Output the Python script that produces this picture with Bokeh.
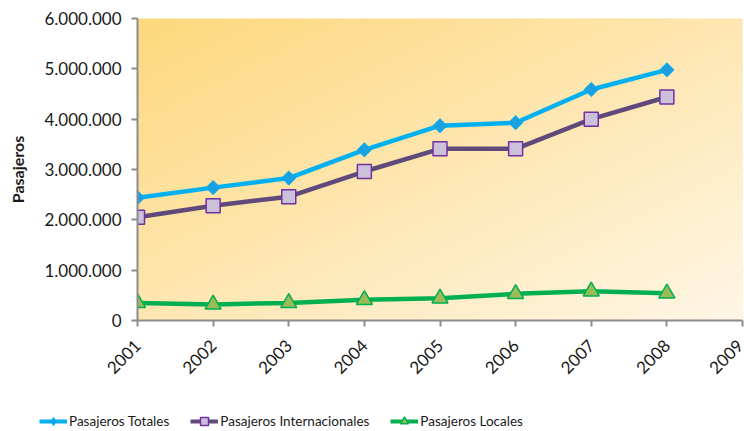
import numpy as np
from math import pi
from bokeh.plotting import figure
from bokeh.layouts import column
from bokeh.models import Range1d, FixedTicker, Legend, LegendItem
from bokeh.embed import file_html
from bokeh.resources import INLINE

years = [2001, 2002, 2003, 2004, 2005, 2006, 2007, 2008]
x_ticks = [2001, 2002, 2003, 2004, 2005, 2006, 2007, 2008, 2009]
totales = [2440000, 2640000, 2830000, 3390000, 3870000, 3930000, 4590000, 4980000]
internacionales = [2050000, 2280000, 2460000, 2960000, 3410000, 3410000, 4000000, 4440000]
locales = [350000, 320000, 350000, 410000, 440000, 530000, 580000, 540000]
y_ticks = [0, 1000000, 2000000, 3000000, 4000000, 5000000, 6000000]
y_labels = ["0", "1.000.000", "2.000.000", "3.000.000", "4.000.000", "5.000.000", "6.000.000"]
series_names = ["Pasajeros Totales", "Pasajeros Internacionales", "Pasajeros Locales"]

FONT = "Lato"

p = figure(width=744, height=391, output_backend="svg", toolbar_location=None,
           x_range=Range1d(x_ticks[0], x_ticks[-1]), y_range=Range1d(y_ticks[0], y_ticks[-1]),
           min_border_left=137, min_border_right=2, min_border_top=18, min_border_bottom=71)
p.outline_line_color = None
p.background_fill_color = "#FEEBB8"

# diagonal gradient background
n = 200
u = np.linspace(0, 1, n)[None, :]
v = np.linspace(0, 1, n)[:, None]  # 0 bottom, 1 top
t = np.clip((u + (1 - v)) / 2, 0, 1)
c0 = np.array([253, 216, 125])
c1 = np.array([255, 246, 230])
img = np.zeros((n, n), dtype=np.uint32)
view = img.view(dtype=np.uint8).reshape((n, n, 4))
for k in range(3):
    view[:, :, k] = (c0[k] + (c1[k] - c0[k]) * t).astype(np.uint8)
view[:, :, 3] = 255
p.image_rgba(image=[img], x=x_ticks[0], y=y_ticks[0], dw=x_ticks[-1] - x_ticks[0], dh=y_ticks[-1] - y_ticks[0])

# grids
p.xgrid.ticker = FixedTicker(ticks=x_ticks)
p.ygrid.ticker = FixedTicker(ticks=y_ticks)
p.xgrid.grid_line_color = "#8C8C8C"
p.xgrid.grid_line_dash = "7 3 2 3"
p.xgrid.grid_line_width = 1.5
p.ygrid.grid_line_color = "#969696"
p.ygrid.grid_line_width = 2
p.xgrid.level = "image"
p.ygrid.level = "image"

# axes
for ax in (p.xaxis[0], p.yaxis[0]):
    ax.axis_line_color = "#8C8C8C"
    ax.axis_line_width = 2
    ax.major_tick_line_color = "#8C8C8C"
    ax.major_tick_line_width = 2
    ax.major_tick_in = 0
    ax.major_tick_out = 6
    ax.minor_tick_line_color = None
    ax.major_label_text_font = FONT
    ax.major_label_text_color = "#1A1A1A"

p.xaxis.ticker = FixedTicker(ticks=x_ticks)
p.xaxis.major_label_orientation = pi / 4
p.xaxis.major_label_text_font_size = "17px"
p.xaxis.major_label_standoff = 16
p.yaxis.ticker = FixedTicker(ticks=y_ticks)
p.yaxis.major_label_overrides = {t_: l for t_, l in zip(y_ticks, y_labels)}
p.yaxis.major_label_text_font_size = "17px"
p.yaxis.major_label_standoff = 10
p.yaxis.axis_label = "Pasajeros"
p.yaxis.axis_label_text_font = FONT
p.yaxis.axis_label_text_font_style = "bold"
p.yaxis.axis_label_text_font_size = "16px"
p.yaxis.axis_label_text_color = "#1A1A1A"
p.yaxis.axis_label_standoff = 14

styles = [
    dict(line_color="#00B0F0", marker="square", angle=pi / 4, size=10, fill_color="#1BA1E2", mline="#00B0F0", lw=1,
         lg_marker="diamond", lg_size=14),
    dict(line_color="#604A7B", marker="square", angle=0, size=14, fill_color="#CCC0DA", mline="#7030A0", lw=1.5,
         lg_marker="square", lg_size=12),
    dict(line_color="#00B050", marker="triangle", angle=0, size=16, fill_color="#9BBB59", mline="#00B050", lw=1.5,
         lg_marker="triangle", lg_size=13),
]
series = [totales, internacionales, locales]

for vals, st in zip(series, styles):
    p.line(years, vals, line_color=st["line_color"], line_width=4.5)
    p.scatter(years, vals, marker=st["marker"], angle=st["angle"], size=st["size"],
              fill_color=st["fill_color"], line_color=st["mline"], line_width=st["lw"])

# legend strip (separate figure below the chart; its ranges keep the series out of view,
# so only the legend is seen)
lg = figure(width=744, height=40, output_backend="svg", toolbar_location=None,
            x_range=Range1d(0, 1), y_range=Range1d(0, 1),
            x_axis_location=None, y_axis_location=None,
            min_border_left=0, min_border_right=0, min_border_top=0, min_border_bottom=0)
lg.frame_align = False
lg.grid.visible = False
lg.outline_line_color = None
items = []
for name, vals, st in zip(series_names, series, styles):
    r1 = lg.line(years, vals, line_color=st["line_color"], line_width=4)
    r2 = lg.scatter(years, vals, marker=st["lg_marker"], size=st["lg_size"],
                    fill_color=st["fill_color"], line_color=st["mline"], line_width=st["lw"])
    items.append(LegendItem(label=name, renderers=[r1, r2]))
legend = Legend(items=items, orientation="horizontal", location=(39, 0), background_fill_alpha=0,
                border_line_color=None, label_text_font=FONT, label_text_font_size="13.5px",
                label_text_color="#1A1A1A", glyph_width=28, label_standoff=2, spacing=21,
                padding=0, margin=0)
lg.add_layout(legend, "center")

layout = column(p, lg, spacing=0)
open("out.html", "w").write(file_html(layout, INLINE))
